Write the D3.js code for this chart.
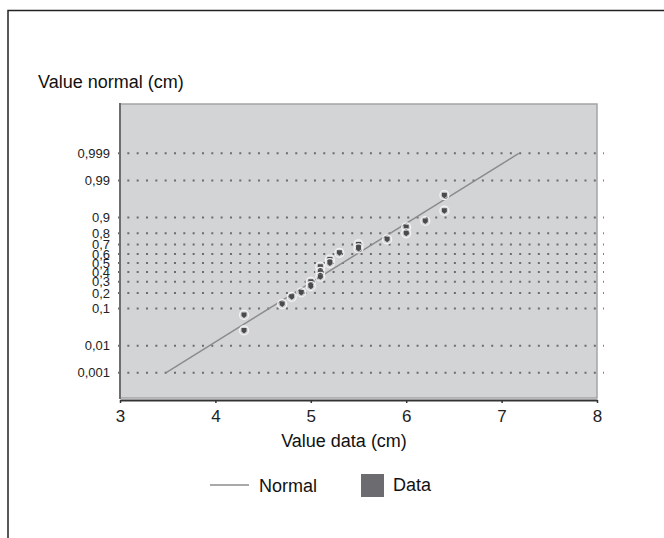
<!DOCTYPE html>
<html>
<head>
<meta charset="utf-8">
<script src="https://cdn.jsdelivr.net/npm/d3@7"></script>
<style>
  body { margin: 0; background: #fff; }
  svg { display: block; font-family: "Liberation Sans", Arial, Helvetica, sans-serif; }
</style>
</head>
<body>
<svg id="chart" width="664" height="538"></svg>
<script>
// data
const dataX = [4.3, 4.3, 4.7, 4.8, 4.9, 5.0, 5.0, 5.1, 5.1, 5.1, 5.2, 5.2, 5.3, 5.5, 5.5, 5.8, 6.0, 6.0, 6.2, 6.4, 6.4];
const dataP = [0.072, 0.029, 0.124, 0.171, 0.204, 0.299, 0.258, 0.459, 0.403, 0.35, 0.54, 0.50, 0.614, 0.70, 0.66, 0.748, 0.843, 0.799, 0.882, 0.972, 0.930];

// fitted normal line (ends)
const normalX = [3.48, 7.18];
const normalP = [0.001, 0.999];

const xTicks = [3, 4, 5, 6, 7, 8];
const yTicks = [0.001, 0.01, 0.1, 0.2, 0.3, 0.4, 0.5, 0.6, 0.7, 0.8, 0.9, 0.99, 0.999];

const plot = { left: 120, right: 597, top: 104, bottom: 398 };

// inverse normal cdf (Acklam)
function probit(p) {
    const a = [-39.69683028665376, 220.9460984245205, -275.9285104469687, 138.3577518672690, -30.66479806614716, 2.506628277459239];
    const b = [-54.47609879822406, 161.5858368580409, -155.6989798598866, 66.80131188771972, -13.28068155288572];
    const c = [-0.007784894002430293, -0.3223964580411365, -2.400758277161838, -2.549732539343734, 4.374664141464968, 2.938163982698783];
    const d = [0.007784695709041462, 0.3224671290700398, 2.445134137142996, 3.754408661907416];
    const pl = 0.02425;
    let q, r;
    if (p < pl) {
        q = Math.sqrt(-2 * Math.log(p));
        return (((((c[0]*q+c[1])*q+c[2])*q+c[3])*q+c[4])*q+c[5]) / ((((d[0]*q+d[1])*q+d[2])*q+d[3])*q+1);
    }
    if (p > 1 - pl) {
        q = Math.sqrt(-2 * Math.log(1 - p));
        return -(((((c[0]*q+c[1])*q+c[2])*q+c[3])*q+c[4])*q+c[5]) / ((((d[0]*q+d[1])*q+d[2])*q+d[3])*q+1);
    }
    q = p - 0.5;
    r = q * q;
    return (((((a[0]*r+a[1])*r+a[2])*r+a[3])*r+a[4])*r+a[5])*q / (((((b[0]*r+b[1])*r+b[2])*r+b[3])*r+b[4])*r+1);
}

const svg = d3.select("#chart");

const xScale = d3.scaleLinear()
    .domain([3, 8])
    .range([plot.left, plot.right]);

// y is linear in z = probit(p)
const yScale = d3.scaleLinear()
    .domain([-3.8, 4.48])
    .range([plot.bottom, plot.top]);

const yP = p => yScale(probit(p));

const locale = d3.formatLocale({ decimal: ",", thousands: ".", grouping: [3], currency: ["", ""] });
const fmt = locale.format("~g");

// outer frame (top + left only)
svg.append("path")
    .attr("d", "M8,538 V10.5 H664")
    .attr("fill", "none")
    .attr("stroke", "#222")
    .attr("stroke-width", 1.5);

// plot area
svg.append("rect")
    .attr("x", plot.left)
    .attr("y", plot.top)
    .attr("width", plot.right - plot.left)
    .attr("height", plot.bottom - plot.top)
    .attr("fill", "#d3d4d6")
    .attr("stroke", "#a4a4a6")
    .attr("stroke-width", 1.5);

// dotted grid
svg.append("g")
    .selectAll("line")
    .data(yTicks)
    .join("line")
    .attr("x1", plot.left - 2)
    .attr("x2", plot.right + 7)
    .attr("y1", d => yP(d))
    .attr("y2", d => yP(d))
    .attr("stroke", "#6c6c6e")
    .attr("stroke-width", 2)
    .attr("stroke-dasharray", "2,7.33");

// left axis
const yAxis = d3.axisLeft(yScale)
    .tickValues(yTicks.map(probit))
    .tickSize(0)
    .tickPadding(10)
    .tickFormat((d, i) => fmt(yTicks[i]));

const gy = svg.append("g")
    .attr("transform", `translate(${plot.left},0)`)
    .call(yAxis);
gy.select(".domain").remove();
gy.selectAll("text")
    .attr("font-size", 13)
    .attr("font-family", null)
    .attr("fill", "#222");

svg.append("line")
    .attr("x1", plot.left)
    .attr("x2", plot.left)
    .attr("y1", plot.top - 1)
    .attr("y2", plot.bottom + 1)
    .attr("stroke", "#6e6e70")
    .attr("stroke-width", 2);

// bottom axis
const xAxis = d3.axisBottom(xScale)
    .tickValues(xTicks)
    .tickSize(3)
    .tickPadding(7)
    .tickSizeOuter(0)
    .tickFormat(d3.format("d"));

const gx = svg.append("g")
    .attr("transform", `translate(0,${plot.bottom + 2})`)
    .call(xAxis);
gx.select(".domain")
    .attr("stroke", "#333")
    .attr("stroke-width", 2);
gx.selectAll(".tick line")
    .attr("stroke", "#333")
    .attr("stroke-width", 1.5);
gx.selectAll("text")
    .attr("font-size", 17)
    .attr("font-family", null)
    .attr("fill", "#222");

// normal line
const line = d3.line()
    .x((d, i) => xScale(normalX[i]))
    .y(d => yP(d));

svg.append("path")
    .datum(normalP)
    .attr("d", line)
    .attr("fill", "none")
    .attr("stroke", "#8c8c8e")
    .attr("stroke-width", 1.5);

// data points
const pts = svg.append("g")
    .selectAll("g")
    .data(dataX)
    .join("g")
    .attr("transform", (d, i) => `translate(${xScale(d)},${yP(dataP[i])})`);

pts.append("circle")
    .attr("r", 4.5)
    .attr("fill", "none")
    .attr("stroke", "#f4f4f4")
    .attr("stroke-width", 1.2);

pts.append("path")
    .attr("d", "M-2.5,-2.5 H2.5 V1 L0,3 L-2.5,1 Z")
    .attr("fill", "#4a4a4c");

// titles
svg.append("text")
    .attr("x", 38)
    .attr("y", 88)
    .attr("font-size", 18)
    .attr("fill", "#111")
    .text("Value normal (cm)");

svg.append("text")
    .attr("x", 344)
    .attr("y", 447)
    .attr("text-anchor", "middle")
    .attr("font-size", 18)
    .attr("fill", "#111")
    .text("Value data (cm)");

// legend
const legend = svg.append("g");

legend.append("line")
    .attr("x1", 210)
    .attr("x2", 249)
    .attr("y1", 485)
    .attr("y2", 485)
    .attr("stroke", "#8c8c8e")
    .attr("stroke-width", 1.5);

legend.append("text")
    .attr("x", 259)
    .attr("y", 492)
    .attr("font-size", 18)
    .attr("fill", "#111")
    .text("Normal");

legend.append("rect")
    .attr("x", 361)
    .attr("y", 474)
    .attr("width", 23)
    .attr("height", 23)
    .attr("fill", "#6b6b70");

legend.append("text")
    .attr("x", 393)
    .attr("y", 491)
    .attr("font-size", 18)
    .attr("fill", "#111")
    .text("Data");
</script>
</body>
</html>
